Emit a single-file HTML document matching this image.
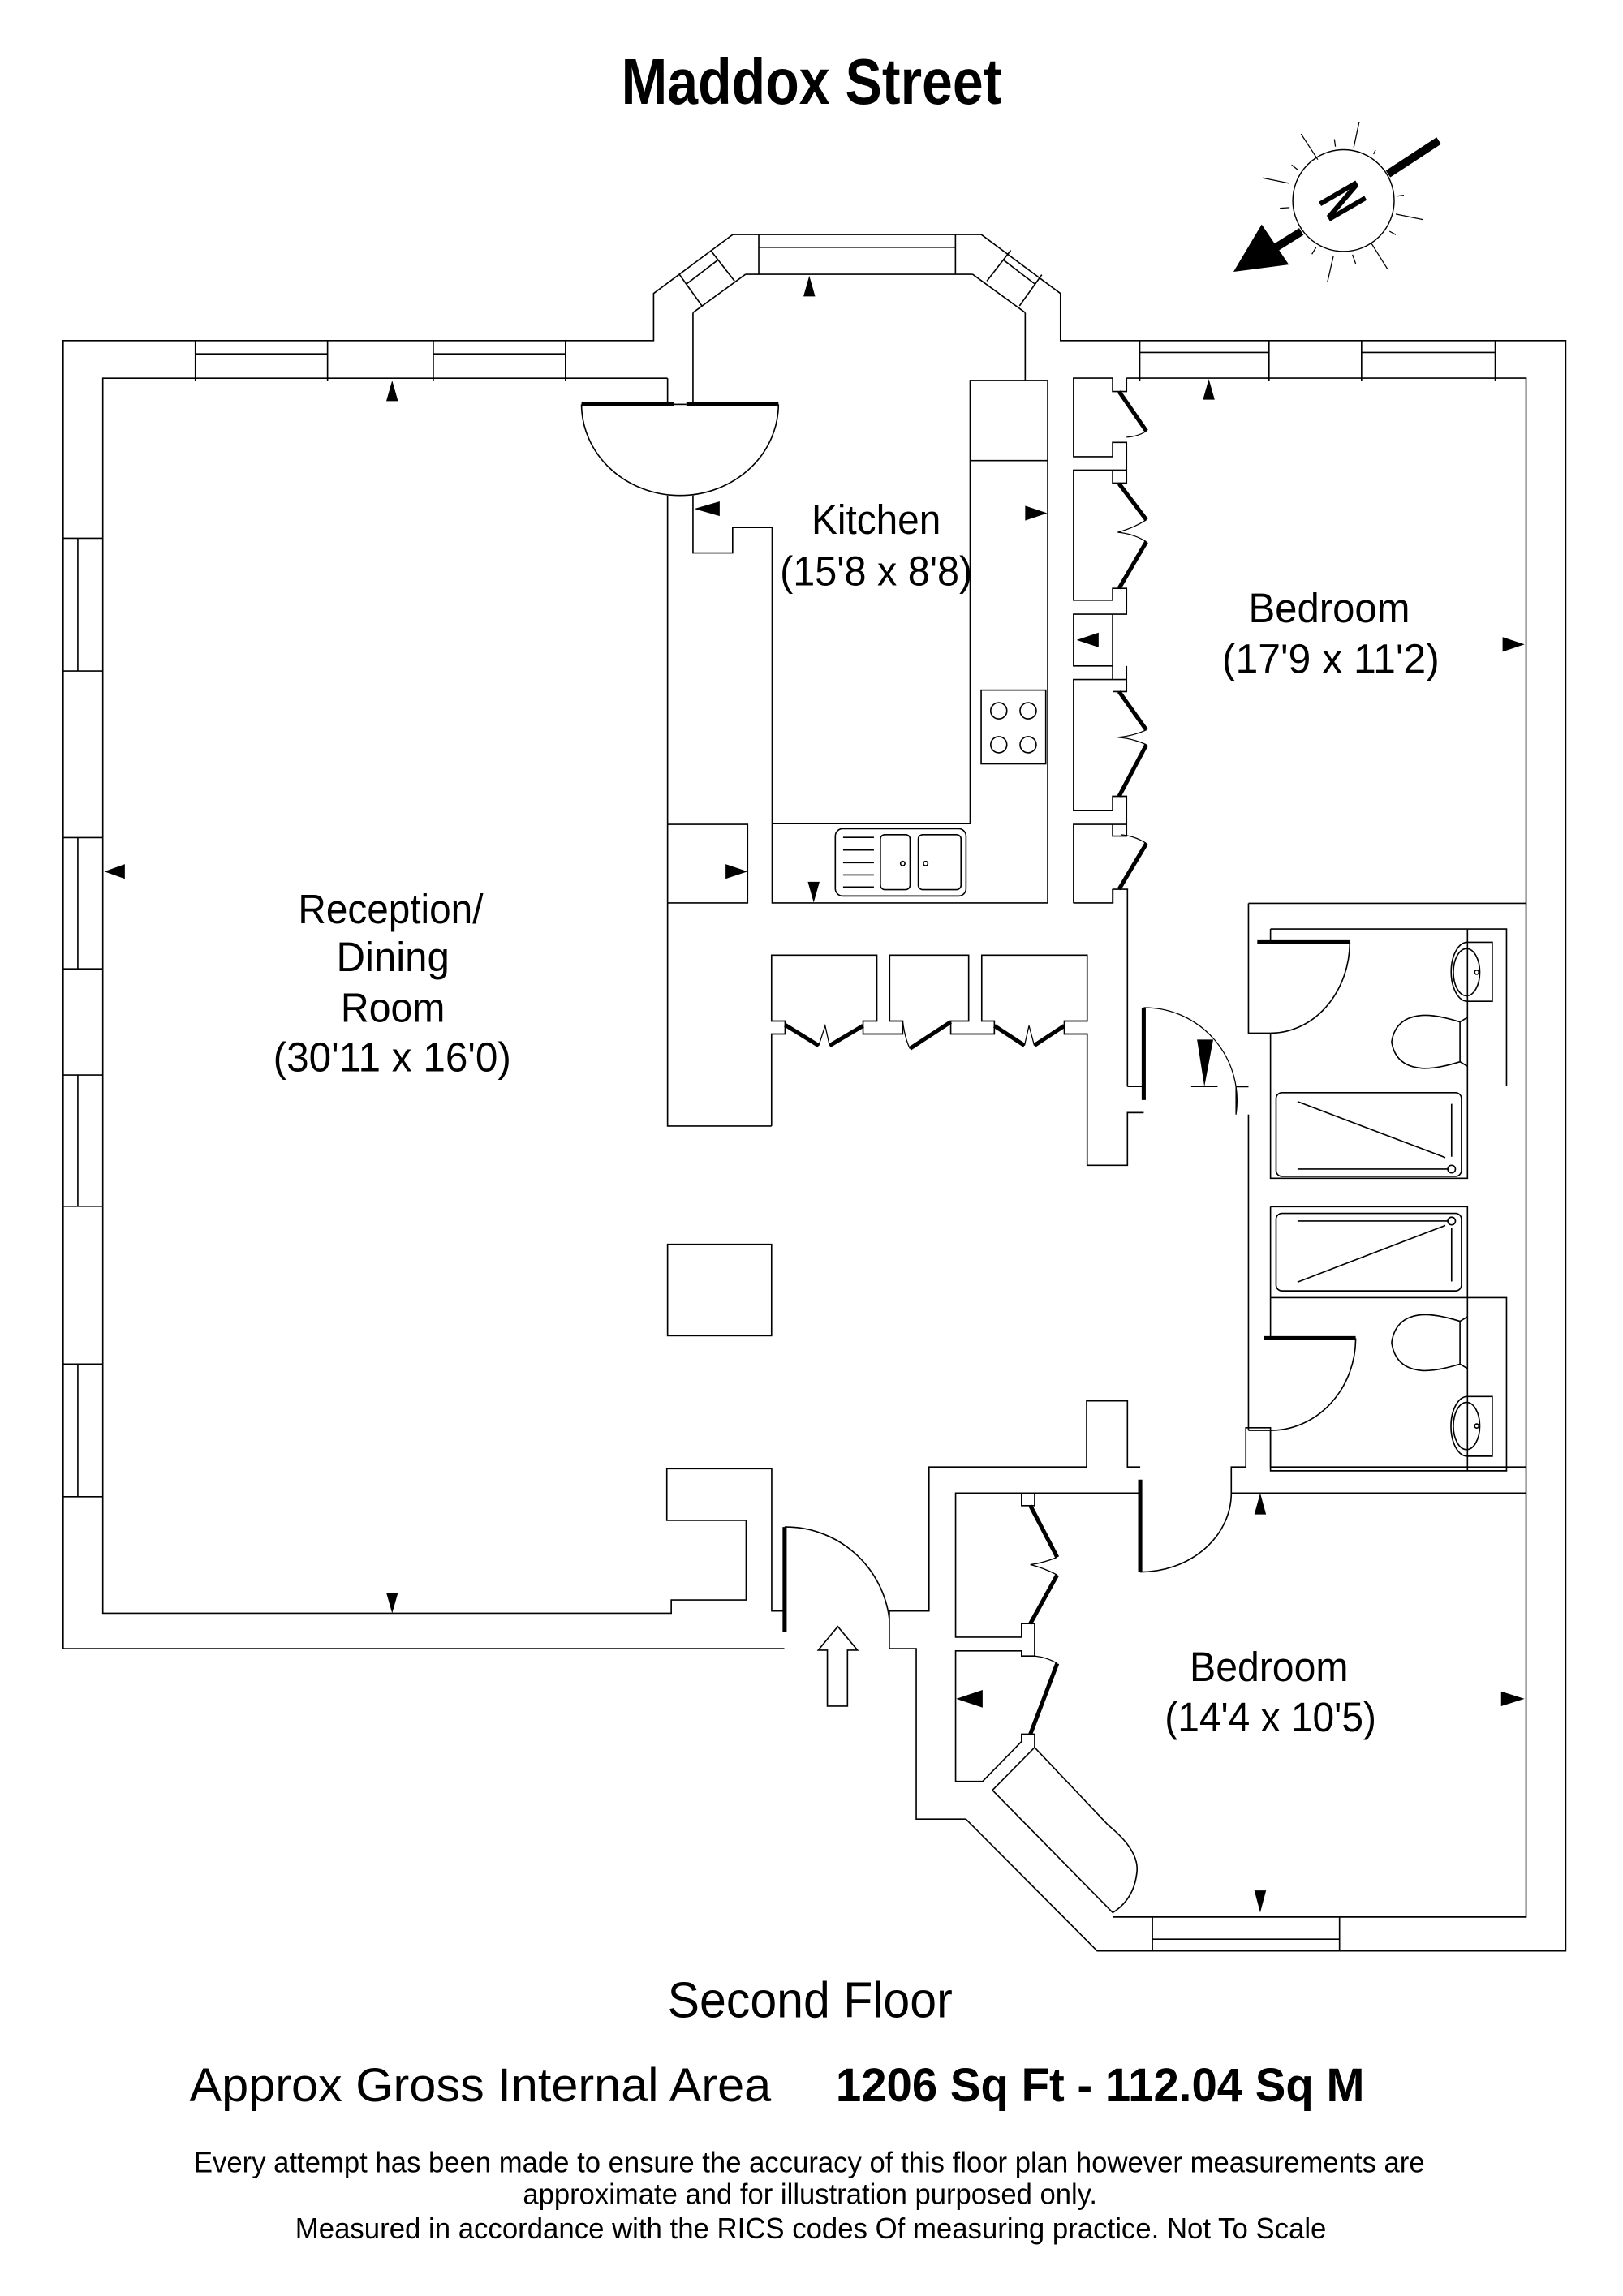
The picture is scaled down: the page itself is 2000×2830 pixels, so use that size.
<!DOCTYPE html>
<html><head><meta charset="utf-8"><style>
html,body{margin:0;padding:0;background:#fff;}
svg{display:block;}
text{font-family:"Liberation Sans",sans-serif;fill:#000;}
</style></head><body>
<svg width="2000" height="2830" viewBox="0 0 1105 1557" preserveAspectRatio="none" xmlns="http://www.w3.org/2000/svg">
<rect x="0" y="0" width="1105" height="1557" fill="#fff"/>
<g fill="none" stroke="#000" stroke-width="0.9" stroke-linejoin="miter">
<!-- outer walls -->
<path d="M534,1118 H43 V231 H445 V199 L499,159 H668 L722,199 V231 H1066 V1323 H747 L657.6,1233.6 H623.8 V1118 H605.5 V1092.5"/>
<!-- top left windows -->
<path d="M133,231 V258 M223,231 V258 M295,231 V258 M385,231 V258 M133,240 H223 M295,240 H385"/>
<!-- left windows -->
<path d="M43,365 H70 M43,455 H70 M53,365 V455 M43,568 H70 M43,657 H70 M53,568 V657 M43,729 H70 M43,818 H70 M53,729 V818 M43,925 H70 M43,1015 H70 M53,925 V1015"/>
<!-- bay windows -->
<path d="M507.6,186 H662.2 M516.6,159 V186 M650.5,159 V186 M516.6,167.7 H650.5"/>
<path d="M471.8,212 V274 M507.6,186 L471.8,212 M698,212 V258 M662.2,186 L698,212"/>
<path d="M462.7,186.3 L477.9,207.4 M483.8,169.7 L500.1,190.6 M467.5,192.5 L488.5,176.5 M709.3,186.3 L694.1,207.4 M688.2,169.7 L671.9,190.6 M704.5,192.5 L683.5,176.5"/>
<!-- right top windows -->
<path d="M776,231 V258 M864,231 V258 M927,231 V258 M1018,231 V258 M776,239 H864 M927,239 H1018"/>
<!-- reception inner -->
<path d="M454.5,256.5 H70 V1094 H457 V1085 H508 V1031 H454 V996 H525.4 V1092.5 H534"/>
<path d="M454.5,256.5 V274 M454.5,336 V763.6 H525.3"/>
<!-- kitchen -->
<path d="M471.8,336 V375 H498.8 V357.7 H525.7 V612.3 H713.3 V258 H660.5 V558.5 H525.7"/>
<path d="M660.5,312.3 H713.3"/>
<path d="M454.5,559 H509 V612.3 H454.5"/>
<rect x="668" y="468" width="44" height="50"/>
<circle cx="680" cy="482" r="5.5"/><circle cx="700" cy="482" r="5.5"/><circle cx="680" cy="505" r="5.5"/><circle cx="700" cy="505" r="5.5"/>
<rect x="568.7" y="562" width="89" height="45.6" rx="5"/>
<rect x="599.4" y="566" width="20.2" height="37.3" rx="3"/>
<rect x="625.2" y="566" width="29.1" height="37.3" rx="3"/>
<path d="M574,567.9 H595 M574,576.4 H595 M574,585 H595 M574,593.3 H595 M574,601.5 H595"/>
<circle cx="614.6" cy="585.6" r="1.5"/><circle cx="630.2" cy="585.6" r="1.5"/>
<!-- kitchen door -->
<path d="M458.6,274.2 H467.3"/>
<path d="M395.9,274.2 A67,62 0 0 0 463,336 A67,62 0 0 0 530,274.2"/>
<!-- cupboard block -->
<path d="M525.3,763.6 V701.2 H534.5 V692.4 H525.3 V647.7 H597 V692.4 H587.6 V701.2 H614.6 V692.4 H605.7 V647.7 H659.5 V692.4 H647.3 V701.2 H677 V692.4 H668.4 V647.7 H740.2 V692.4 H724.6 V701.2 H740.2 V790.2 H767.6 V754.5 H778.7"/>
<!-- bedroom1 wardrobes column -->
<path d="M767.6,736.8 H778.7 M767.6,736.8 V603 H757.7 V612.3 H730.7"/>
<path d="M757.5,256.4 H730.9 V309.7 H757.5 M757.5,256.4 V265.5 H767 V256.4 M757.5,309.7 V300 H767 V318.8 H757.5 M757.5,318.8 H730.9 V407 H757.5 V399 H767 V416.5 H757.5 V451.6 H730.9 V416.5 H757.5 M757.5,451.6 V460.8 H767 V451.6 M757.5,460.8 H730.9 V549.7 H757.5 V540 H767 V559 H757.5 M757.5,559 H730.9 V612.3 M757.5,559 V567 H767 V559 M757.5,603 V612.3 M767,265.5 V256.4 M767,318.8 V327.6 H757.5 V318.8 M767,460.8 V469 H757.5"/>
<path d="M767,256.4 H1039 V1300 H757.6"/>
</g>
<!-- thick door lines -->
<g fill="none" stroke="#000" stroke-width="2.8" stroke-linecap="butt">
<path d="M395.9,274.2 H458.6 M467.3,274.2 H530"/>
<path d="M761.9,265.5 L780.5,292.3 M761.9,328 L780.5,352.5 M780.5,367.4 L761.9,399 M761.9,469 L780.5,495 M780.5,505 L761.9,540 M780.5,572 L761.9,603"/>
<path d="M534.5,695 L557.4,709.1 M564.8,709.1 L587.6,695.6 M619.5,711.1 L647.3,693 M677,695.6 L697.5,709 M704.2,709 L724.6,695.6"/>
<path d="M778.7,683.3 V746"/>
<path d="M856,639 H919 M860.6,907.5 H923"/>
<path d="M534.2,1035.5 V1106.5"/>
<path d="M776.3,1003.4 V1066"/>
<path d="M701.5,1021 L719.8,1056 M719.8,1068 L701.5,1101 M719.8,1128 L701.5,1176"/>
</g>
<g fill="none" stroke="#000" stroke-width="0.7">
<path d="M780.5,292.3 Q775,296 767,296.5 M780.5,352.5 Q772,358 761,361 Q772,362 780.5,367.4 M780.5,495 Q772,499 761,500 Q772,501 780.5,505 M763,566 Q773,567 780.5,572"/>
<path d="M557.4,709.1 L561.8,695.6 L564.8,709.1 M614.6,692.4 Q616,704 619.5,711.1 M697.5,709 L700.6,695.6 L704.2,709"/>
<path d="M778.7,683.3 A63,63 0 0 1 841.5,755.8 M841.5,755.8 V737 H850"/>
<path d="M719.8,1056 Q710,1060 701.5,1061 Q710,1063 719.8,1068 M704.4,1123 Q713,1124 719.8,1128"/>
</g>
<g fill="none" stroke="#000" stroke-width="0.9">
<!-- hall / ensuite walls -->
<path d="M850,612.6 H1039 M850,612.6 V700.6 H865"/>
<path d="M850,755.8 V970"/>
<path d="M865,630 H1025.7 V736.6 M865,630 V639 M865,700.6 V799 H999.1 V630"/>
<path d="M999,639 H1016 V679 H999"/>
<path d="M999,639 A11,20 0 0 0 999,679"/>
<ellipse cx="998.5" cy="659.3" rx="9" ry="16"/>
<circle cx="1005.4" cy="659.3" r="1.4"/>
<path d="M994,693 Q978,688 968,688.6 Q950,690 947.5,706.5 Q950,723 968,724.4 Q978,725 994,720 Z M994,693 L999,690 M994,720 L999,723"/>
<path d="M919,639 A54,62 0 0 1 865,700.6"/>
<rect x="868.8" y="741" width="126.2" height="56.7" rx="4"/>
<path d="M883.4,747 L984,785 M883.4,792.8 H985.7 M988.3,748.6 V784.4"/>
<circle cx="988.3" cy="792.8" r="2.6"/>
<!-- bath 2 -->
<path d="M865,818.3 H999.1 V880 M865,818.3 V907.5"/>
<rect x="868.8" y="822.8" width="126.2" height="52.6" rx="4"/>
<path d="M883.4,869.4 L984,831 M883.4,828 H985.7 M988.3,833 V869"/>
<circle cx="988.3" cy="828" r="2.6"/>
<!-- ensuite 2 -->
<path d="M865,880 H1025.7 V997.4 H865 V970 H850 M999.1,880 V997.4"/>
<path d="M923,907.5 A58,62.5 0 0 1 865,970"/>
<path d="M994,896 Q978,891 968,891.6 Q950,893 947.5,910.5 Q950,928 968,929.4 Q978,930 994,925 Z M994,896 L999,893 M994,925 L999,928"/>
<path d="M999,947 H1016 V987.5 H999"/>
<path d="M999,947 A11,20 0 0 0 999,987.5"/>
<ellipse cx="998.5" cy="967" rx="9" ry="16"/>
<circle cx="1005.4" cy="967" r="1.4"/>
<!-- column -->
<rect x="454.5" y="843.8" width="70.8" height="62"/>
<!-- middle lower walls -->
<path d="M605.5,1092.5 H632.5 V994.8 H739.8 V950 H767.6 V994.8 H776.3"/>
<path d="M838.3,1012.5 V994.8 H848.2 V968.2 H865 V994.8 H1039"/>
<path d="M838.3,1012.5 H1039 M776.3,1012.5 H650.6 V1110.2 H695.5 V1101 H704.4 V1123 H695.5 V1119.5 H650.6 V1208 H669 L695.5,1181 V1176 H704.4 V1185 L754.4,1237.6"/>
<path d="M695.5,1012.5 V1021 H704.4 V1012.5"/>
<path d="M675.7,1214 L757.6,1297 M675.7,1214 L704.4,1185 M754.4,1237.6 Q776,1255 774,1270 Q772,1288 757.6,1297"/>
<path d="M784.6,1300 V1323 M912,1300 V1323 M784.6,1315 H912"/>
<path d="M534.2,1035.5 A71,71 0 0 1 605.5,1098"/>
<path d="M776.3,1066 A62,53.5 0 0 0 838.3,1012.5"/>
<!-- entrance arrow -->
<path d="M570.4,1103 L583.8,1119 H577 V1157 H563.3 V1119 H557.1 Z"/>
<!-- hall arrow bar -->
<path d="M811,736.8 H829"/>
</g>
<!-- dimension triangles -->
<g fill="#000" stroke="none">
<path d="M267,258 L263,272 H271 Z"/>
<path d="M551,187 L547,201 H555 Z"/>
<path d="M823,257 L819,271 H827 Z"/>
<path d="M472.7,345 L490,340 V350 Z"/>
<path d="M713,348 L698,343 V353 Z"/>
<path d="M1038,437 L1023,432 V442 Z"/>
<path d="M733,434 L748,429 V439 Z"/>
<path d="M71,591 L85,586 V596 Z"/>
<path d="M509,591 L494,586 V596 Z"/>
<path d="M554,612 L550,598 H558 Z"/>
<path d="M820,736.8 L815,705 H826 Z"/>
<path d="M267,1094 L263,1080 H271 Z"/>
<path d="M858,1012.5 L854,1027 H862 Z"/>
<path d="M651,1152 L669,1146 V1158 Z"/>
<path d="M1038,1152 L1022,1147 V1157 Z"/>
<path d="M858,1297 L854,1282 H862 Z"/>
<!-- compass arrow -->
<path d="M839.8,184.3 L859,152.2 L877.5,179.4 Z"/>
</g>
<!-- compass -->
<g stroke="#000" fill="none">
<path d="M979.6,95.4 L945,118 M886,157 L862,172" stroke-width="5.5"/>
<circle cx="914.7" cy="136" r="34.5" stroke-width="0.8"/>
<path stroke-width="0.7" d="M885.8,90.8 L897.2,108.2 M908.5,94.4 L909.2,99.4 M921.7,99.9 L925.4,82.5 M935.2,104.5 L936.5,101.8 M859.6,120.6 L877.5,124.3 M879.4,111.8 L884,115.5 M871.4,141.2 L878,140.8 M951.2,133 L955.8,132.4 M950.3,145.2 L968.7,148.9 M946,156.8 L950.3,159.2 M893.2,172.4 L896,167.8 M903.8,191.1 L907.9,173.3 M920.8,172.7 L923,178.8 M933.7,165 L944.7,182.5"/>
</g>
<text transform="translate(914.7,136) rotate(60) scale(0.62,1)" x="0" y="15" font-size="42" font-weight="bold" text-anchor="middle">N</text>
<!-- labels -->
<text x="423" y="70.5" font-size="44" font-weight="bold" textLength="259" lengthAdjust="spacingAndGlyphs">Maddox Street</text>
<text x="552.5" y="362" font-size="28" textLength="88" lengthAdjust="spacingAndGlyphs">Kitchen</text>
<text x="531" y="397" font-size="28" textLength="131" lengthAdjust="spacingAndGlyphs">(15'8 x 8'8)</text>
<text x="850" y="422" font-size="28" textLength="110" lengthAdjust="spacingAndGlyphs">Bedroom</text>
<text x="832" y="456.5" font-size="28" textLength="148" lengthAdjust="spacingAndGlyphs">(17'9 x 11'2)</text>
<text x="203" y="626" font-size="28" textLength="126" lengthAdjust="spacingAndGlyphs">Reception/</text>
<text x="229" y="658.5" font-size="28" textLength="77" lengthAdjust="spacingAndGlyphs">Dining</text>
<text x="232" y="693" font-size="28" textLength="71" lengthAdjust="spacingAndGlyphs">Room</text>
<text x="186" y="726.5" font-size="28" textLength="162" lengthAdjust="spacingAndGlyphs">(30'11 x 16'0)</text>
<text x="810" y="1140" font-size="28" textLength="108" lengthAdjust="spacingAndGlyphs">Bedroom</text>
<text x="793" y="1174" font-size="28" textLength="144" lengthAdjust="spacingAndGlyphs">(14'4 x 10'5)</text>
<text x="454.5" y="1368" font-size="34" textLength="194" lengthAdjust="spacingAndGlyphs">Second Floor</text>
<text x="129" y="1425" font-size="32" textLength="396" lengthAdjust="spacingAndGlyphs">Approx Gross Internal Area</text>
<text x="569" y="1425" font-size="32" font-weight="bold" textLength="360" lengthAdjust="spacingAndGlyphs">1206 Sq Ft  - 112.04 Sq M</text>
<text x="132" y="1473" font-size="20" textLength="838" lengthAdjust="spacingAndGlyphs">Every attempt has been made to ensure the accuracy of this floor plan however measurements are</text>
<text x="356" y="1494.5" font-size="20" textLength="391" lengthAdjust="spacingAndGlyphs">approximate and for illustration purposed only.</text>
<text x="201" y="1518" font-size="20" textLength="702" lengthAdjust="spacingAndGlyphs">Measured in accordance with the RICS codes Of measuring practice. Not To Scale</text>
</svg>
</body></html>
